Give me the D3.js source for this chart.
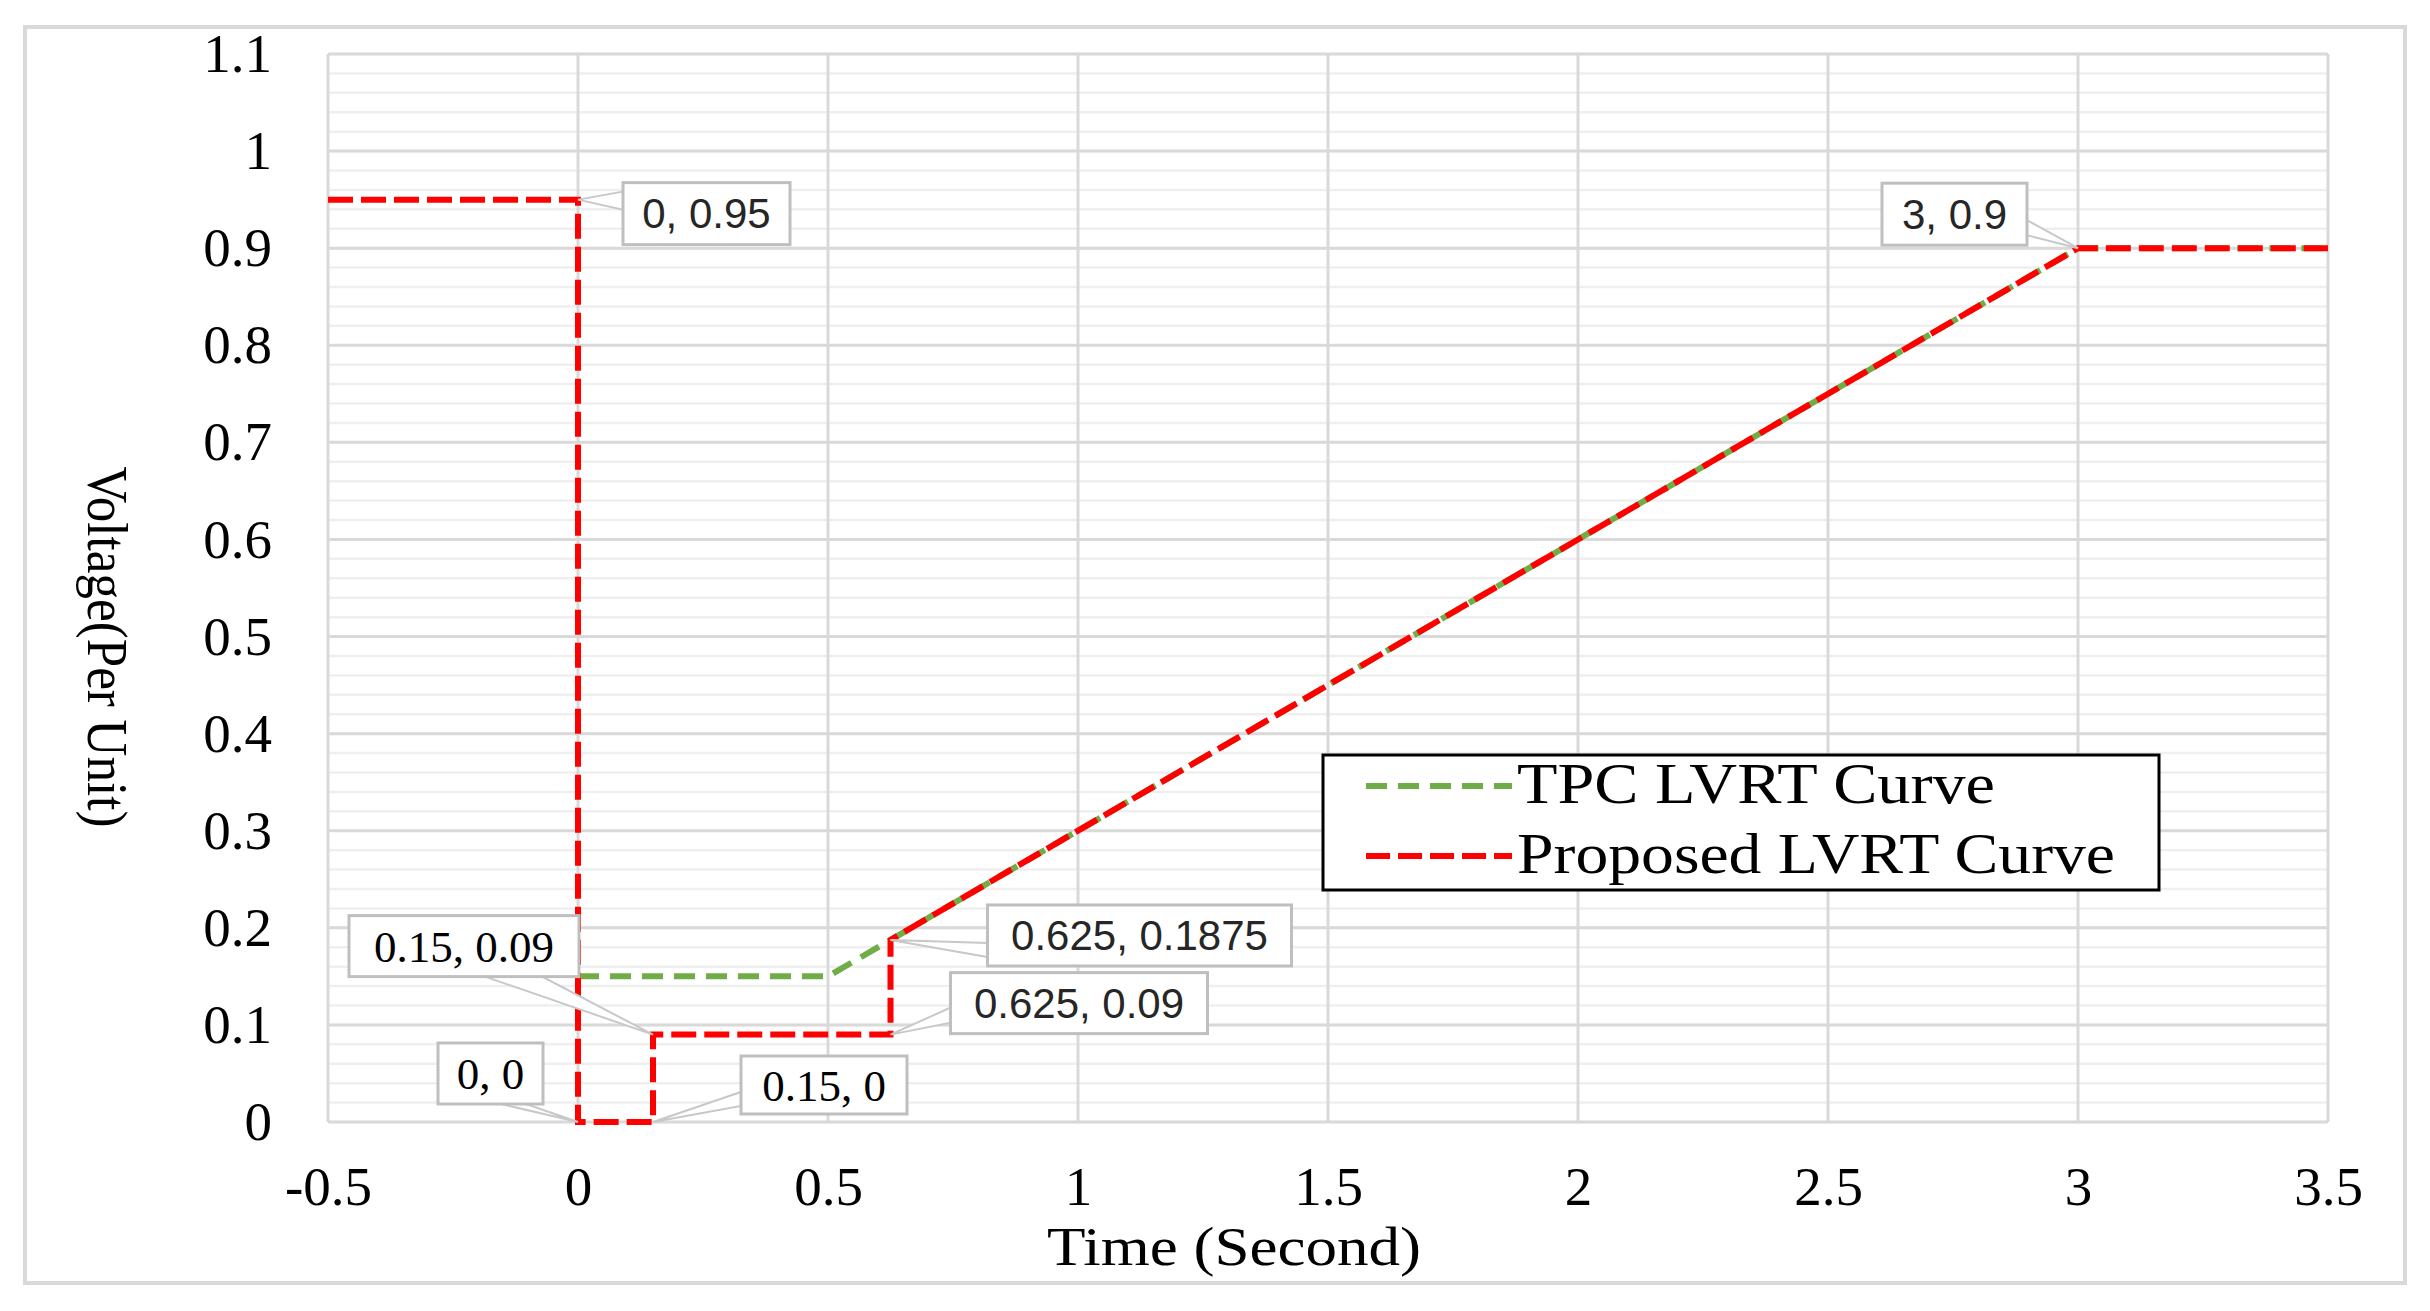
<!DOCTYPE html>
<html>
<head>
<meta charset="utf-8">
<script src="https://cdn.jsdelivr.net/npm/d3@7"></script>
<style>
  body { margin: 0; background: #fff; }
  svg { display: block; }
  .serif { font-family: "Liberation Serif", "Times New Roman", serif; }
  .sans { font-family: "Liberation Sans", Arial, sans-serif; }
</style>
</head>
<body>
<div id="chart"></div>
<script>
// axis ticks
var xTicks = [-0.5, 0, 0.5, 1, 1.5, 2, 2.5, 3, 3.5];
var yTicks = [0, 0.1, 0.2, 0.3, 0.4, 0.5, 0.6, 0.7, 0.8, 0.9, 1, 1.1];

// series
var seriesNames = ["TPC LVRT Curve", "Proposed LVRT Curve"];
var tpcTime = [0, 0.5, 3, 3.5];
var tpcVolt = [0.15, 0.15, 0.9, 0.9];
var propTime = [-0.5, 0, 0, 0.15, 0.15, 0.625, 0.625, 3, 3.5];
var propVolt = [0.95, 0.95, 0, 0, 0.09, 0.09, 0.1875, 0.9, 0.9];

// labelled points
var labelTime = [0, 3, 0.15, 0, 0.15, 0.625, 0.625];
var labelVolt = [0.95, 0.9, 0.09, 0, 0, 0.1875, 0.09];

// callout placement (px offsets from the point), kept apart from the data
var calloutLayout = [
  {dx: 45, dy: -17, w: 167, h: 62, side: "left", b0: 9, b1: 27, font: "sans"},
  {dx: -196, dy: -65, w: 145, h: 62, side: "right", b0: 37, b1: 52, font: "sans"},
  {dx: -304, dy: -119, w: 230, h: 61, side: "bottom", b0: 136, b1: 193, font: "serif"},
  {dx: -140, dy: -79, w: 105, h: 61, side: "bottom", b0: 63, b1: 88, font: "serif"},
  {dx: 88, dy: -66, w: 166, h: 58, side: "left", b0: 36, b1: 50, font: "serif"},
  {dx: 97, dy: -35, w: 304, h: 61, side: "left", b0: 38, b1: 52, font: "sans"},
  {dx: 60, dy: -62, w: 257, h: 61, side: "left", b0: 35, b1: 50, font: "sans"}
];

var W = 2430, H = 1311;
var plotL = 328, plotR = 2328, plotT = 54, plotB = 1122;

var svg = d3.select("#chart").append("svg")
  .attr("width", W)
  .attr("height", H);

svg.append("rect")
  .attr("x", 25).attr("y", 27)
  .attr("width", 2380).attr("height", 1256)
  .attr("fill", "#fff")
  .attr("stroke", "#d9d9d9")
  .attr("stroke-width", 4);

var x = d3.scaleLinear().domain([-0.5, 3.5]).range([plotL, plotR]);
var y = d3.scaleLinear().domain([0, 1.1]).range([plotB, plotT]);

var gridLayer = svg.append("g");
var lineLayer = svg.append("g");
var labelLayer = svg.append("g");

// minor horizontal grid
gridLayer.selectAll(".minor")
  .data(y.ticks(55))
  .enter().append("line")
  .attr("x1", plotL).attr("x2", plotR)
  .attr("y1", y).attr("y2", y)
  .attr("stroke", "#efefef")
  .attr("stroke-width", 2.5);

// major grid
gridLayer.selectAll(".hmajor")
  .data(yTicks)
  .enter().append("line")
  .attr("x1", plotL).attr("x2", plotR)
  .attr("y1", y).attr("y2", y)
  .attr("stroke", "#d9d9d9")
  .attr("stroke-width", 3);

gridLayer.selectAll(".vmajor")
  .data(xTicks)
  .enter().append("line")
  .attr("x1", x).attr("x2", x)
  .attr("y1", plotT).attr("y2", plotB)
  .attr("stroke", "#d9d9d9")
  .attr("stroke-width", 3);

// axes (labels only)
var yAxis = svg.append("g")
  .attr("transform", "translate(" + plotL + ",0)")
  .call(d3.axisLeft(y).tickValues(yTicks).tickSize(0).tickPadding(56).tickFormat(function(d) { return String(d); }));
var xAxis = svg.append("g")
  .attr("transform", "translate(0," + plotB + ")")
  .call(d3.axisBottom(x).tickValues(xTicks).tickSize(0).tickPadding(44).tickFormat(function(d) { return String(d); }));

[yAxis, xAxis].forEach(function(a) {
  a.select(".domain").remove();
  a.selectAll("text")
    .attr("class", "serif")
    .attr("font-size", 55)
    .attr("fill", "#000");
});

// axis titles
svg.append("text")
  .attr("class", "serif")
  .attr("x", 1234).attr("y", 1265)
  .attr("text-anchor", "middle")
  .attr("font-size", 54)
  .attr("textLength", 374)
  .attr("lengthAdjust", "spacingAndGlyphs")
  .text("Time  (Second)");

svg.append("text")
  .attr("class", "serif")
  .attr("transform", "translate(88,647) rotate(90)")
  .attr("text-anchor", "middle")
  .attr("font-size", 58)
  .attr("textLength", 361)
  .attr("lengthAdjust", "spacingAndGlyphs")
  .text("Voltage(Per  Unit)");

// lines
var tpc = tpcTime.map(function(t, i) { return [t, tpcVolt[i]]; });
var prop = propTime.map(function(t, i) { return [t, propVolt[i]]; });

var line = d3.line()
  .x(function(d) { return x(d[0]); })
  .y(function(d) { return y(d[1]); });

lineLayer.append("path")
  .attr("d", line(tpc))
  .attr("fill", "none")
  .attr("stroke", "#70ad47")
  .attr("stroke-width", 6)
  .attr("stroke-dasharray", "21,11");

lineLayer.append("path")
  .attr("d", line(prop))
  .attr("fill", "none")
  .attr("stroke", "#ff0000")
  .attr("stroke-width", 6)
  .attr("stroke-dasharray", "25,8");

// callouts
labelTime.forEach(function(t, i) {
  var L = calloutLayout[i];
  var px = x(t), py = y(labelVolt[i]);
  var bx = px + L.dx, by = py + L.dy;
  var base;
  if (L.side == "left") base = [[bx, by + L.b0], [bx, by + L.b1]];
  else if (L.side == "right") base = [[bx + L.w, by + L.b0], [bx + L.w, by + L.b1]];
  else base = [[bx + L.b0, by + L.h], [bx + L.b1, by + L.h]];

  labelLayer.append("polygon")
    .attr("points", [[px, py], base[0], base[1]].map(function(p) { return p.join(","); }).join(" "))
    .attr("fill", "#fff")
    .attr("stroke", "#c8c8c8")
    .attr("stroke-width", 2);

  labelLayer.append("rect")
    .attr("x", bx).attr("y", by)
    .attr("width", L.w).attr("height", L.h)
    .attr("fill", "#fff")
    .attr("stroke", "#bfbfbf")
    .attr("stroke-width", 3);

  labelLayer.append("text")
    .attr("class", L.font)
    .attr("x", bx + L.w / 2)
    .attr("y", by + L.h / 2)
    .attr("dy", "0.35em")
    .attr("text-anchor", "middle")
    .attr("font-size", L.font == "sans" ? 42 : 45)
    .attr("fill", L.font == "sans" ? "#262626" : "#000")
    .text(t + ", " + labelVolt[i]);
});

// legend
var legend = svg.append("g");
legend.append("rect")
  .attr("x", 1323).attr("y", 755)
  .attr("width", 836).attr("height", 135)
  .attr("fill", "#fff")
  .attr("stroke", "#000")
  .attr("stroke-width", 3);

var legColors = ["#70ad47", "#ff0000"],
legDash = ["21,11", "24,8"],
legWidths = [478, 598];

seriesNames.forEach(function(name, i) {
  var cy = 786 + i * 70;
  legend.append("line")
    .attr("x1", 1366).attr("x2", 1512)
    .attr("y1", cy).attr("y2", cy)
    .attr("stroke", legColors[i])
    .attr("stroke-width", 6)
    .attr("stroke-dasharray", legDash[i]);
  legend.append("text")
    .attr("class", "serif")
    .attr("x", 1517)
    .attr("y", cy + 17)
    .attr("font-size", 56)
    .attr("textLength", legWidths[i])
    .attr("lengthAdjust", "spacingAndGlyphs")
    .text(name);
});
</script>
</body>
</html>
